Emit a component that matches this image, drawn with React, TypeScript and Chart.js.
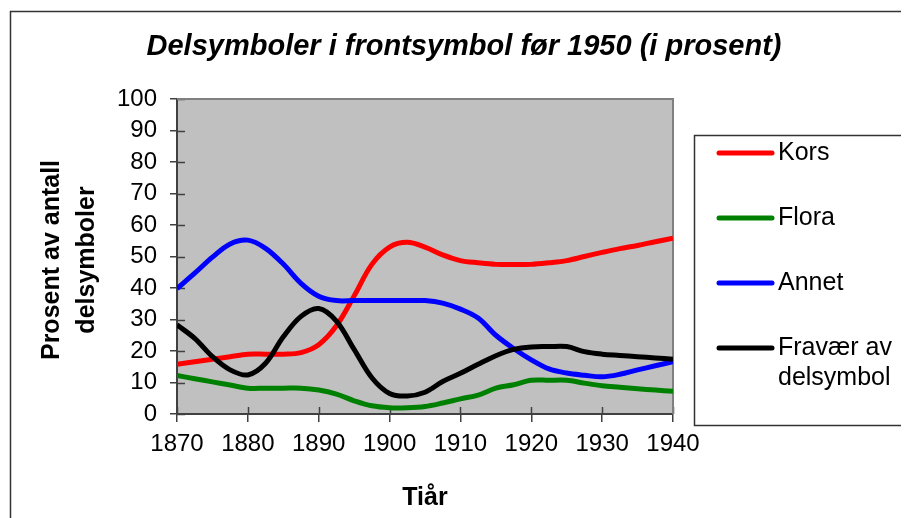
import React, { useEffect, useRef } from "react";
import { Chart, registerables } from "chart.js";

Chart.register(...registerables);

const years = [
  1870, 1872.5, 1875, 1877.5, 1880, 1882.5, 1885, 1887.5, 1890, 1892.5,
  1895, 1897.5, 1900, 1902.5, 1905, 1907.5, 1910, 1912.5, 1915, 1917.5,
  1920, 1922.5, 1925, 1927.5, 1930, 1932.5, 1935, 1937.5, 1940,
];
const kors = [
  15.8, 16.6, 17.4, 18.2, 19, 19, 19, 19.5, 22, 28,
  37.5, 47.5, 53, 54.5, 53, 50.5, 48.7, 48, 47.5, 47.5,
  47.5, 48, 48.7, 50, 51.3, 52.5, 53.5, 54.7, 55.8,
];
const flora = [
  12.2, 11.2, 10.2, 9.2, 8.2, 8.2, 8.2, 8.2, 7.6, 6.3,
  4.2, 2.6, 2, 2, 2.4, 3.5, 4.8, 6, 8.2, 9.3,
  10.7, 10.7, 10.7, 9.8, 9, 8.5, 8, 7.6, 7.2,
];
const annet = [
  39.8, 44.7, 49.8, 54, 55.2, 52.6, 47.6, 41.5, 37.4, 36,
  36, 36, 36, 36, 36, 35.2, 33.3, 30.5, 25, 20.8,
  17.2, 14.3, 13, 12.3, 11.8, 12.6, 14, 15.3, 16.6,
];
const fravaer = [
  28.3, 24, 18.2, 14, 12.4, 16.1, 24.5, 31, 33.5, 29.5,
  20.5, 11.5, 6.5, 5.7, 6.9, 10.3, 12.9, 15.8, 18.5, 20.5,
  21.3, 21.4, 21.4, 19.8, 19, 18.6, 18.2, 17.8, 17.4,
];

const seriesLabels = ["Kors", "Flora", "Annet", "Fravær av delsymbol"];
const legendTexts = [["Kors"], ["Flora"], ["Annet"], ["Fravær av", "delsymbol"]];
const seriesColors = ["#FF0000", "#008000", "#0000FF", "#000000"];
const seriesValues = [kors, flora, annet, fravaer];

const titleText = "Delsymboler i frontsymbol før 1950 (i prosent)";
const yTitleLines = ["Prosent av antall", "delsymboler"];
const xTitleText = "Tiår";

const FONT = "'Liberation Sans', Arial, sans-serif";

const decorPlugin = {
  id: "decor",
  beforeDraw(chart: any) {
    const { ctx, chartArea: a } = chart;
    ctx.save();
    ctx.fillStyle = "#C0C0C0";
    ctx.fillRect(a.left, a.top, a.right - a.left, a.bottom - a.top);
    ctx.restore();
  },
  beforeDatasetsDraw(chart: any) {
    const { ctx, chartArea: a, scales } = chart;
    ctx.save();
    ctx.strokeStyle = "#404040";
    ctx.lineWidth = 1.5;
    scales.x.ticks.forEach((t: any) => {
      const px = Math.round(scales.x.getPixelForValue(t.value)) + 0.5;
      ctx.beginPath();
      ctx.moveTo(px, a.bottom);
      ctx.lineTo(px, a.bottom - 7);
      ctx.stroke();
    });
    scales.y.ticks.forEach((t: any) => {
      const py = Math.round(scales.y.getPixelForValue(t.value)) + 0.5;
      ctx.beginPath();
      ctx.moveTo(a.left, py);
      ctx.lineTo(a.left + 8, py);
      ctx.stroke();
    });
    ctx.strokeStyle = "#808080";
    ctx.lineWidth = 2;
    ctx.beginPath();
    ctx.moveTo(a.left, a.top);
    ctx.lineTo(a.right, a.top);
    ctx.lineTo(a.right, a.bottom);
    ctx.stroke();
    ctx.restore();
  },
  afterDraw(chart: any) {
    const { ctx, chartArea: a } = chart;
    ctx.save();
    ctx.strokeStyle = "#333333";
    ctx.lineWidth = 1.5;
    ctx.beginPath();
    ctx.moveTo(2.5, 520);
    ctx.lineTo(2.5, 3.5);
    ctx.lineTo(910, 3.5);
    ctx.stroke();

    ctx.fillStyle = "#000";
    ctx.textAlign = "center";
    ctx.textBaseline = "middle";
    ctx.font = `italic bold 29px ${FONT}`;
    ctx.fillText(titleText, 456, 39);

    ctx.font = `bold 25px ${FONT}`;
    ctx.save();
    ctx.translate(61, 252);
    ctx.rotate(-Math.PI / 2);
    ctx.fillText(yTitleLines[0], 0, -17);
    ctx.fillText(yTitleLines[1], 0, 18);
    ctx.restore();

    ctx.fillText(xTitleText, (a.left + a.right) / 2, 490);

    const lx = 686, ly = 127, lh = 290;
    ctx.strokeStyle = "#333333";
    ctx.lineWidth = 1.5;
    ctx.strokeRect(lx + 0.5, ly + 0.5, 400, lh);
    ctx.font = `25px ${FONT}`;
    ctx.textAlign = "left";
    chart.data.datasets.forEach((ds: any, i: number) => {
      const cy = 145 + i * 65;
      ctx.strokeStyle = ds.borderColor;
      ctx.lineWidth = 5;
      ctx.lineCap = "round";
      ctx.beginPath();
      ctx.moveTo(711, cy);
      ctx.lineTo(764, cy);
      ctx.stroke();
      ctx.fillStyle = "#000";
      legendTexts[i].forEach((t, j) => ctx.fillText(t, 770, cy + j * 30));
    });
    ctx.restore();
  },
};

export default function App() {
  const ref = useRef<HTMLCanvasElement>(null);
  useEffect(() => {
    if (!ref.current) return;
    const datasets = seriesValues.map((vals, i) => ({
      label: seriesLabels[i],
      data: years.map((x, k) => ({ x, y: vals[k] })),
      borderColor: seriesColors[i],
      backgroundColor: seriesColors[i],
      borderWidth: 5,
      pointRadius: 0,
      tension: 0.35,
      fill: false,
      order: 3 - i,
    }));
    const chart = new Chart(ref.current, {
      type: "line",
      data: { datasets },
      plugins: [decorPlugin],
      options: {
        responsive: false,
        animation: false,
        devicePixelRatio: 1,
        layout: { padding: { top: 91, right: 236, left: 0, bottom: 0 } },
        plugins: { legend: { display: false }, tooltip: { enabled: false }, title: { display: false } },
        scales: {
          x: {
            type: "linear",
            min: 1870,
            max: 1940,
            afterFit: (s: any) => { s.height = 104; },
            ticks: {
              stepSize: 10,
              maxRotation: 0,
              autoSkip: false,
              padding: 8,
              color: "#000",
              font: { family: FONT, size: 24 },
              callback: (v: any) => String(v),
            },
            grid: { drawOnChartArea: false, drawTicks: true, tickLength: 8, color: "#404040", lineWidth: 1.5 },
            border: { display: true, color: "#404040", width: 2 },
          },
          y: {
            min: 0,
            max: 100,
            afterFit: (s: any) => { s.width = 169; },
            ticks: {
              stepSize: 10,
              autoSkip: false,
              padding: 13,
              color: "#000",
              font: { family: FONT, size: 24 },
            },
            grid: { drawOnChartArea: false, drawTicks: true, tickLength: 7, color: "#404040", lineWidth: 1.5 },
            border: { display: true, color: "#404040", width: 2 },
          },
        },
      },
    } as any);
    return () => chart.destroy();
  }, []);
  return (
    <div style={{ width: 901, height: 510, position: "relative", overflow: "hidden" }}>
      <canvas ref={ref} width={901} height={510} style={{ display: "block" }} />
    </div>
  );
}
